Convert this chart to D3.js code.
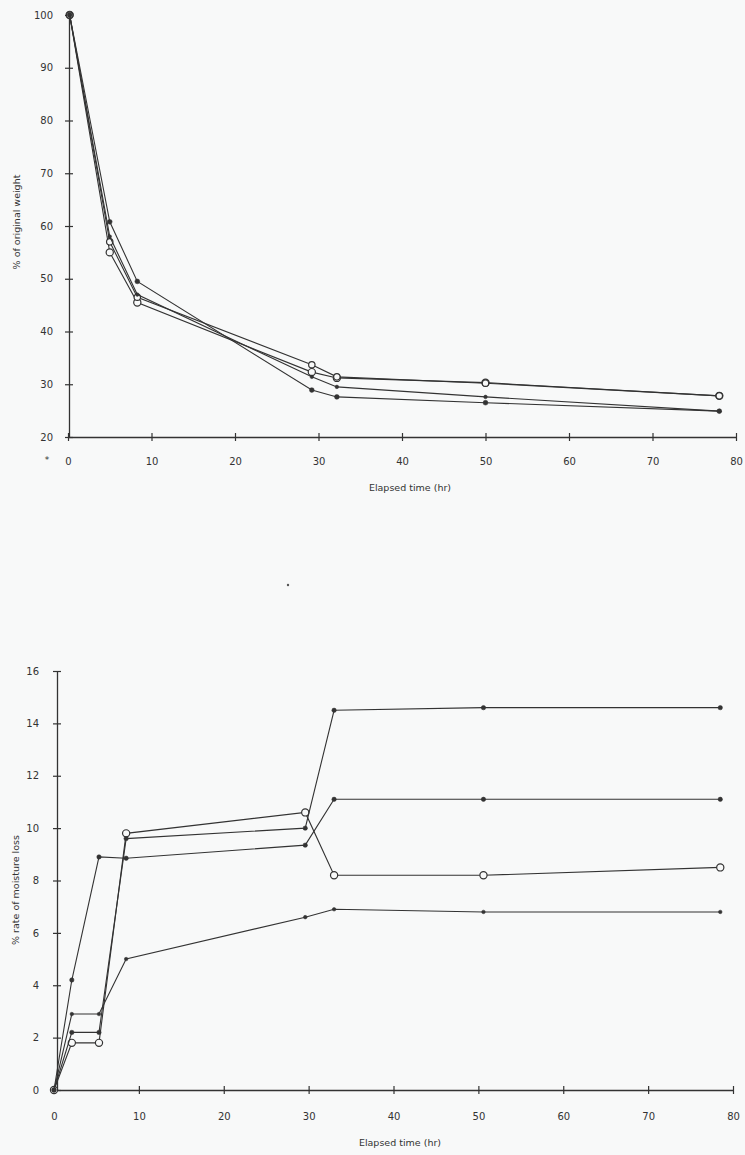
<!DOCTYPE html>
<html><head><meta charset="utf-8">
<script src="https://cdn.jsdelivr.net/npm/d3@7"></script>
<style>
body{margin:0;background:#f8f9f9;}
svg{display:block;}
text{font-family:"DejaVu Sans",sans-serif;fill:#333;}
</style></head>
<body>
<script>
// ---- Top chart data ----
const topTimes = [0.2, 5, 8.3, 29.2, 32.2, 50, 78];
const topOpenCircle = [100, 55, 45.5, 32.3, 31.2, 30.3, 27.8];
const topOpenSquare = [100, 57, 46.5, 33.7, 31.4, 30.2, 27.8];
const topSmallDot  = [100, 58, 47, 31.4, 29.5, 27.6, 24.9];
const topFilledDot = [100, 60.8, 49.5, 28.9, 27.6, 26.5, 24.9];
const topYTicks = [20, 30, 40, 50, 60, 70, 80, 90, 100];
const xTicks = [0, 10, 20, 30, 40, 50, 60, 70, 80];

// ---- Bottom chart data ----
const botTimes = [0, 2.1, 5.3, 8.5, 29.6, 33, 50.6, 78.5];
const botOpen   = [0, 1.8, 1.8, 9.8, 10.6, 8.2, 8.2, 8.5];
const botSeriesA = [0, 2.2, 2.2, 9.6, 10.0, 14.5, 14.6, 14.6];
const botSeriesB = [0, 4.2, 8.9, 8.85, 9.35, 11.1, 11.1, 11.1];
const botSeriesC = [0, 2.9, 2.9, 5.0, 6.6, 6.9, 6.8, 6.8];
const botYTicks = [0, 2, 4, 6, 8, 10, 12, 14, 16];

const xTitle = "Elapsed time (hr)";
const topYTitle = "% of original weight";
const botYTitle = "% rate of moisture loss";

const W = 745, H = 1155;
const svg = d3.select("body").append("svg").attr("width", W).attr("height", H);
const ink = "#333";
const textInk = "#3c3c3c";

function drawChart(cfg){
  const g = svg.append("g");
  const x = d3.scaleLinear().domain([0, 80]).range([cfg.x0, cfg.x1]);
  const y = d3.scaleLinear().domain(cfg.yDomain).range([cfg.yBottom, cfg.yTop]);

  const xa = g.append("g").attr("transform", `translate(0,${cfg.yBottom})`)
    .call(d3.axisBottom(x).tickValues(xTicks).tickSize(4).tickSizeOuter(0).tickFormat(d3.format("d")));
  xa.select(".domain").attr("stroke", ink).attr("stroke-width", 1.3);
  xa.selectAll(".tick line").attr("y1", -4).attr("y2", 4).attr("stroke", ink).attr("stroke-width", 1.2);
  xa.selectAll(".tick text").attr("y", cfg.xLabelDy).attr("font-size", 10).attr("fill", textInk);

  const ya = g.append("g").attr("transform", `translate(${cfg.yAxisX},0)`)
    .call(d3.axisLeft(y).tickValues(cfg.yTicks).tickSize(4).tickSizeOuter(0).tickFormat(d3.format("d")));
  ya.select(".domain").attr("stroke", ink).attr("stroke-width", 1.3);
  ya.selectAll(".tick line").attr("x1", -4).attr("x2", 4).attr("stroke", ink).attr("stroke-width", 1.2);
  ya.selectAll(".tick text").attr("x", -cfg.yLabelGap).attr("font-size", 10).attr("fill", textInk);

  const line = d3.line().x(d => x(d[0])).y(d => y(d[1]));
  cfg.series.forEach(s => {
    const pts = cfg.times.map((t, i) => [t, s.values[i]]);
    g.append("path").datum(pts).attr("d", line).attr("fill", "none")
      .attr("stroke", ink).attr("stroke-width", 1.1);
    g.selectAll(null).data(pts).enter().append("circle")
      .attr("cx", d => x(d[0])).attr("cy", d => y(d[1]))
      .attr("r", s.r)
      .attr("fill", s.open ? "#f8f9f9" : ink)
      .attr("stroke", ink).attr("stroke-width", s.open ? 1.2 : 0.5);
  });

  g.append("text").attr("x", cfg.titleX).attr("y", cfg.titleY)
    .attr("text-anchor", "middle").attr("font-size", 9.5)
    .attr("fill", textInk).text(xTitle);
  g.append("text").attr("transform", `translate(${cfg.yTitleX},${cfg.yTitleY}) rotate(-90)`)
    .attr("text-anchor", "middle").attr("font-size", 9.5)
    .attr("fill", textInk).text(cfg.yTitle);
}

drawChart({
  x0: 68, x1: 736, yBottom: 437, yTop: 15, yDomain: [20, 100], yAxisX: 69,
  yTicks: topYTicks, times: topTimes, xLabelDy: 21, yLabelGap: 16,
  titleX: 410, titleY: 491, yTitleX: 20, yTitleY: 222, yTitle: topYTitle,
  series: [
    {values: topOpenCircle, r: 3.6, open: true},
    {values: topOpenSquare, r: 3.2, open: true},
    {values: topSmallDot, r: 1.8, open: false},
    {values: topFilledDot, r: 2.4, open: false}
  ]
});

drawChart({
  x0: 54, x1: 733, yBottom: 1090, yTop: 671, yDomain: [0, 16], yAxisX: 57,
  yTicks: botYTicks, times: botTimes, xLabelDy: 23, yLabelGap: 18,
  titleX: 400, titleY: 1146, yTitleX: 19, yTitleY: 890, yTitle: botYTitle,
  series: [
    {values: botOpen, r: 3.6, open: true},
    {values: botSeriesA, r: 2.2, open: false},
    {values: botSeriesB, r: 2.2, open: false},
    {values: botSeriesC, r: 1.8, open: false}
  ]
});

// stray marks from the scanned original
svg.append("text").attr("x", 47).attr("y", 463).attr("font-size", 9)
  .attr("text-anchor", "middle").attr("fill", "#555").text("*");
svg.append("circle").attr("cx", 288).attr("cy", 585).attr("r", 1.2).attr("fill", "#555");
</script>
</body></html>
